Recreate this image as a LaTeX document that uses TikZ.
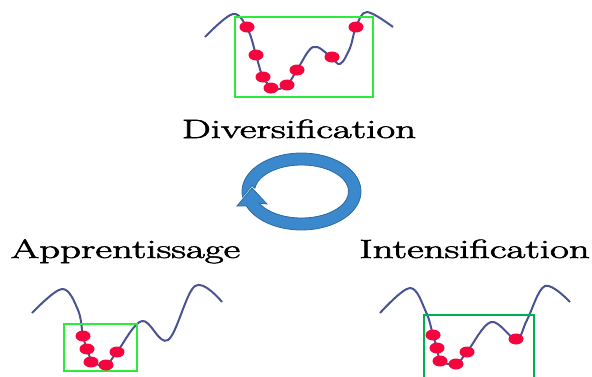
\documentclass[tikz,border=0pt]{standalone}
\usetikzlibrary{calc}
\definecolor{curvec}{HTML}{4A5392}
\definecolor{dotc}{HTML}{F5053D}
\definecolor{lightg}{HTML}{2DEB3A}
\definecolor{darkg}{HTML}{00B050}
\definecolor{arrowfill}{HTML}{3B88CC}
\definecolor{arrowdraw}{HTML}{2C6AA3}
\tikzset{
  landscape/.style={draw=curvec, line width=2pt, smooth, tension=0.6},
  pt/.style={fill=dotc},
  lbl/.style={inner sep=0pt, anchor=base, font=\fontsize{26.4}{30}\selectfont},
  winl/.style={draw=lightg, line width=1.5pt},
  wind/.style={draw=darkg, line width=2pt}
}
\newcommand{\dotat}[1]{\fill[pt] #1 ellipse [x radius=7.5pt, y radius=5.5pt];}
\newcommand{\wide}[1]{\scalebox{1.55}[1]{\special{pdf:literal direct 2 Tr 0.5 w}#1\special{pdf:literal direct 0 Tr}}}
\begin{document}
\begin{tikzpicture}[x=1pt,y=1pt]
\useasboundingbox (0,0) rectangle (592,-376);
\clip (0,0) rectangle (592,-376);
% top
\draw[landscape] plot coordinates {(205,-37) (233,-14) (248,-30) (256,-55) (263,-77) (274,-89) (287,-85) (297,-70) (313,-47) (330,-56) (340,-64) (350,-48) (356,-27) (367,-12) (393,-27)};
\draw[winl] (235,-17) rectangle (373,-97);
\foreach \p in {(247,-27),(256,-55),(263,-77),(271,-88),(287,-85),(297,-70),(332,-57),(356,-27)} {\dotat{\p}}
% bottom left
\draw[landscape] plot coordinates {(32,-313) (62,-289) (78,-310) (83,-336) (87,-349) (93,-362) (106,-365) (117,-352) (142,-321) (168,-340) (195,-286) (222,-302)};
\draw[winl] (64,-324) rectangle (137,-371);
\foreach \p in {(83,-336),(87,-349),(91,-362),(106,-365),(117,-352)} {\dotat{\p}}
% bottom right
\draw[landscape] plot coordinates {(380,-313) (410,-288) (426,-312) (433,-335) (437,-348) (441,-361) (456,-364) (467,-352) (491,-322) (516,-339) (527,-320) (545,-286) (570,-302)};
\draw[wind] (424,-315) rectangle (534,-390);
\foreach \p in {(433,-335),(437,-348),(440,-361),(456,-364),(467,-352),(516,-339)} {\dotat{\p}}
% circular arrow
\filldraw[fill=arrowfill, draw=arrowdraw, line width=0.8pt, shift={(301.5,-191.5)}]
  (188:59.5pt and 38.5pt) arc[start angle=188, end angle=-158, x radius=59.5pt, y radius=38.5pt]
  -- (-64.5,-14.5) -- (-49.5,3.5) -- (-34.5,-12.5)
  -- (-154:47pt and 26.5pt) arc[start angle=-154, end angle=173, x radius=47pt, y radius=26.5pt]
  -- (-49.5,6) -- cycle;
% labels
\node[lbl] (div) at (299,-138) {\wide{Diversification}};
\node[lbl] (app) at (125.5,-258) {\wide{Apprentissage}};
\node[lbl] (int) at (474.5,-258) {\wide{Intensification}};
\end{tikzpicture}
\end{document}
